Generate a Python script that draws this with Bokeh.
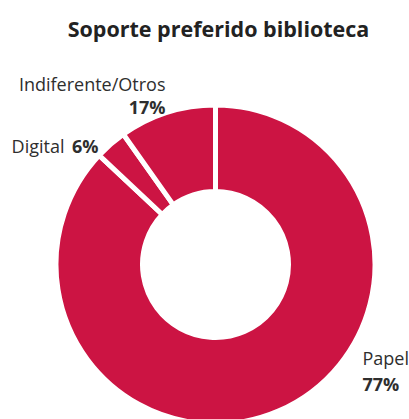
from bokeh.plotting import figure
from bokeh.models import Range1d, ColumnDataSource
from bokeh.core.properties import value
from bokeh.embed import file_html
from bokeh.resources import INLINE
import numpy as np

# Data (slice sizes as drawn in the reference; labels as printed)
categories = ["Papel", "Digital", "Indiferente/Otros"]
drawn_share = [87, 3.2, 9.8]
label_pct = ["77%", "6%", "17%"]

RED = "#cc1443"
TXT = "#2e2e2e"
W, H = 409, 419

p = figure(width=W, height=H, output_backend="svg", toolbar_location=None,
           x_range=Range1d(0, W), y_range=Range1d(0, H),
           min_border=0, outline_line_color=None)
p.axis.visible = False
p.grid.visible = False
p.background_fill_color = "white"
p.border_fill_color = "white"

vals = np.array(drawn_share, dtype=float)
frac = vals / vals.sum()
cum = np.concatenate([[0], np.cumsum(frac)])
start = np.pi / 2 - cum[:-1] * 2 * np.pi
end = np.pi / 2 - cum[1:] * 2 * np.pi

src = ColumnDataSource(dict(cat=categories, start=start, end=end))
cx, cy = 215, 155
p.annular_wedge(x=cx, y=cy, inner_radius=73, outer_radius=159.5,
                start_angle="start", end_angle="end", direction="clock",
                fill_color=RED, line_color="white", line_width=5, source=src)

TFONT = value("Open Sans")
FONT = value("Open Sans")
p.text(x=[218], y=[391], text=["Soporte preferido biblioteca"], text_font=TFONT,
       text_font_size="21.5px", text_font_style="bold", text_color="#222222",
       text_align="center", text_baseline="alphabetic")

LS = "18px"
p.text(x=[165], y=[336], text=[categories[2]], text_font=FONT, text_font_size=LS,
       text_color=TXT, text_align="right", text_baseline="alphabetic")
p.text(x=[165], y=[313], text=[label_pct[2]], text_font=FONT, text_font_size=LS,
       text_font_style="bold", text_color=TXT, text_align="right", text_baseline="alphabetic")
p.text(x=[64], y=[274], text=[categories[1]], text_font=FONT, text_font_size=LS,
       text_color=TXT, text_align="right", text_baseline="alphabetic")
p.text(x=[98], y=[274], text=[label_pct[1]], text_font=FONT, text_font_size=LS,
       text_font_style="bold", text_color=TXT, text_align="right", text_baseline="alphabetic")
p.text(x=[362], y=[62], text=[categories[0]], text_font=FONT, text_font_size=LS,
       text_color=TXT, text_align="left", text_baseline="alphabetic")
p.text(x=[362], y=[36], text=[label_pct[0]], text_font=FONT, text_font_size=LS,
       text_font_style="bold", text_color=TXT, text_align="left", text_baseline="alphabetic")

open("out.html", "w").write(file_html(p, INLINE))
